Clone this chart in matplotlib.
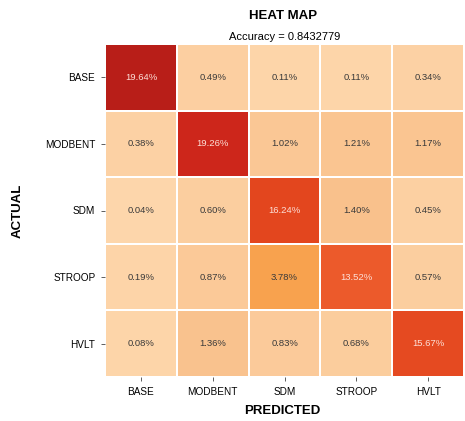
import numpy as np
import matplotlib
matplotlib.use("Agg")
import matplotlib.pyplot as plt
from matplotlib.colors import LinearSegmentedColormap

plt.rcParams['font.family'] = ['Liberation Sans', 'DejaVu Sans']

classes = ["BASE", "MODBENT", "SDM", "STROOP", "HVLT"]
percent = np.array([
    [19.64, 0.49, 0.11, 0.11, 0.34],
    [0.38, 19.26, 1.02, 1.21, 1.17],
    [0.04, 0.60, 16.24, 1.40, 0.45],
    [0.19, 0.87, 3.78, 13.52, 0.57],
    [0.08, 1.36, 0.83, 0.68, 15.67],
])
accuracy = 0.8432779

vmax = 19.64
anchors = [
    (0.0, "#fdd6ab"),
    (1.4 / vmax, "#f9c18c"),
    (3.78 / vmax, "#f8a24e"),
    (13.52 / vmax, "#ec5a2b"),
    (16.24 / vmax, "#e3461e"),
    (19.26 / vmax, "#d2281c"),
    (1.0, "#b81e18"),
]
cmap = LinearSegmentedColormap.from_list("heat", anchors)

fig = plt.figure(figsize=(4.65, 4.21), dpi=100)
ax = fig.add_axes([0.226, 0.1045, 0.772, 0.791])

n = len(classes)
ax.pcolormesh(np.arange(n + 1), np.arange(n + 1), percent, cmap=cmap,
              vmin=0, vmax=vmax, edgecolor="white", linewidth=1.2)
ax.set_xlim(0, n)
ax.set_ylim(n, 0)

for i in range(n):
    for j in range(n):
        v = percent[i, j]
        color = "#fde0d8" if v > 8 else "#3a3a3a"
        ax.text(j + 0.5, i + 0.5, f"{v:.2f}%", ha="center", va="center",
                fontsize=6.8, color=color)

ax.set_xticks(np.arange(n) + 0.5)
ax.set_yticks(np.arange(n) + 0.5)
ax.set_xticklabels(classes, fontsize=7.2)
ax.set_yticklabels(classes, fontsize=7.2)
ax.tick_params(length=3, width=0.6, color="#444444", pad=4)
for s in ax.spines.values():
    s.set_visible(False)

ax.set_title(f"Accuracy = {accuracy}", fontsize=8, pad=3)
fig.text(0.608, 0.963, "HEAT MAP", ha="center", va="center",
         fontsize=9.5, fontweight="bold")
fig.text(0.608, 0.024, "PREDICTED", ha="center", va="center",
         fontsize=9.5, fontweight="bold")
fig.text(0.038, 0.5, "ACTUAL", rotation=90, ha="center", va="center",
         fontsize=9.5, fontweight="bold")

fig.savefig("out.png", dpi=100)
